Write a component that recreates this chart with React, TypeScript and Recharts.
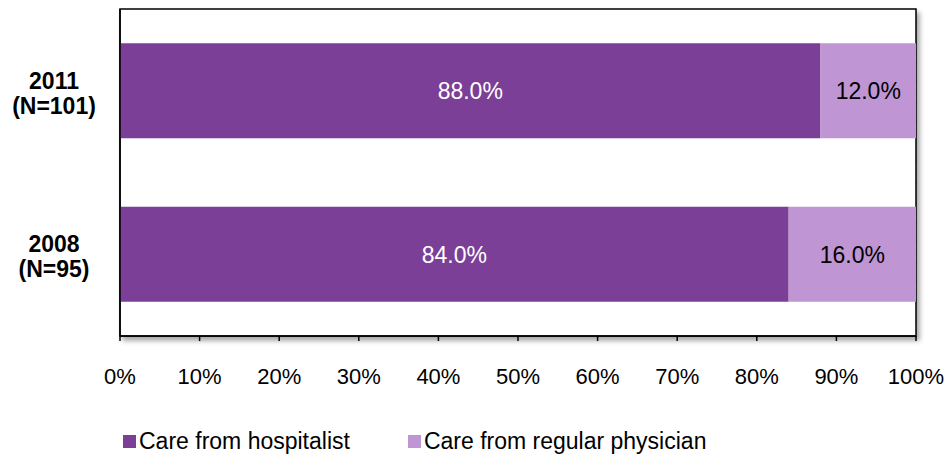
import React from "react";
import {
  BarChart,
  Bar,
  XAxis,
  YAxis,
  CartesianGrid,
  Legend,
  LabelList,
  ReferenceArea,
} from "recharts";

const groups = ["2011 (N=101)", "2008 (N=95)"];
const hospitalist = [88.0, 84.0];
const regular = [12.0, 16.0];
const xTicks = [0, 10, 20, 30, 40, 50, 60, 70, 80, 90, 100];

const data = groups.map((g, i) => ({
  label: g,
  hospitalist: hospitalist[i],
  regular: regular[i],
}));

const DARK = "#7B3F98";
const LIGHT = "#BF95D3";
const FONT = "'Liberation Sans', Arial, sans-serif";

function GroupTick({ y, payload }: any) {
  const [year, n] = String(payload.value).split(" ");
  return (
    <text
      x={54}
      y={y}
      textAnchor="middle"
      fontFamily={FONT}
      fontSize={23}
      fontWeight="bold"
      fill="#000"
    >
      <tspan x={54} dy={-2}>{year}</tspan>
      <tspan x={54} dy={25}>{n}</tspan>
    </text>
  );
}

function LegendBox() {
  const items = [
    { name: "Care from hospitalist", color: DARK },
    { name: "Care from regular physician", color: LIGHT },
  ];
  return (
    <div style={{ display: "flex", fontFamily: FONT, fontSize: 23, color: "#000" }}>
      {items.map((it, i) => (
        <div key={i} style={{ display: "flex", alignItems: "center", marginRight: 58 }}>
          <span style={{ width: 13, height: 13, background: it.color, marginRight: 3 }} />
          <span>{it.name}</span>
        </div>
      ))}
    </div>
  );
}

const pct = (v: any) => `${Number(v).toFixed(1)}%`;

export default function App() {
  return (
    <div style={{ position: "absolute", left: 0, top: 0, width: 948, height: 454, background: "#fff" }}>
      <BarChart
        width={948}
        height={454}
        data={data}
        layout="vertical"
        margin={{ top: 9, right: 32, left: 0, bottom: 58 }}
        barCategoryGap="21%"
      >
        <defs>
          <filter id="plotShadow" x="-5%" y="-5%" width="115%" height="120%">
            <feDropShadow dx="3" dy="4" stdDeviation="2.5" floodColor="#000" floodOpacity="0.35" />
          </filter>
        </defs>
        <ReferenceArea
          x1={0}
          x2={100}
          fill="#fff"
          fillOpacity={1}
          stroke="#000"
          strokeWidth={1.5}
          style={{ filter: "url(#plotShadow)" }}
          ifOverflow="visible"
        />
        <CartesianGrid horizontal={false} strokeDasharray="6 4" stroke="#BDBDBD" />
        <XAxis
          type="number"
          domain={[0, 100]}
          ticks={xTicks}
          tickFormatter={(v) => `${v}%`}
          stroke="#000"
          strokeWidth={1.5}
          tickSize={5}
          tickMargin={27}
          height={60}
          tick={{ fontFamily: FONT, fontSize: 22, fill: "#000" }}
          interval={0}
        />
        <YAxis
          type="category"
          dataKey="label"
          width={120}
          stroke="#000"
          strokeWidth={1.5}
          tickLine={false}
          tick={<GroupTick />}
        />
        <Legend
          verticalAlign="middle"
          layout="horizontal"
          content={<LegendBox />}
          wrapperStyle={{ top: 428, left: 123, width: 760 }}
        />
        <Bar dataKey="hospitalist" name="Care from hospitalist" stackId="a" fill={DARK} isAnimationActive={false}>
          <LabelList
            dataKey="hospitalist"
            position="center"
            formatter={pct}
            fill="#fff"
            style={{ fontFamily: FONT, fontSize: 23 }}
          />
        </Bar>
        <Bar dataKey="regular" name="Care from regular physician" stackId="a" fill={LIGHT} isAnimationActive={false}>
          <LabelList
            dataKey="regular"
            position="center"
            formatter={pct}
            fill="#000"
            style={{ fontFamily: FONT, fontSize: 23 }}
          />
        </Bar>
      </BarChart>
    </div>
  );
}
